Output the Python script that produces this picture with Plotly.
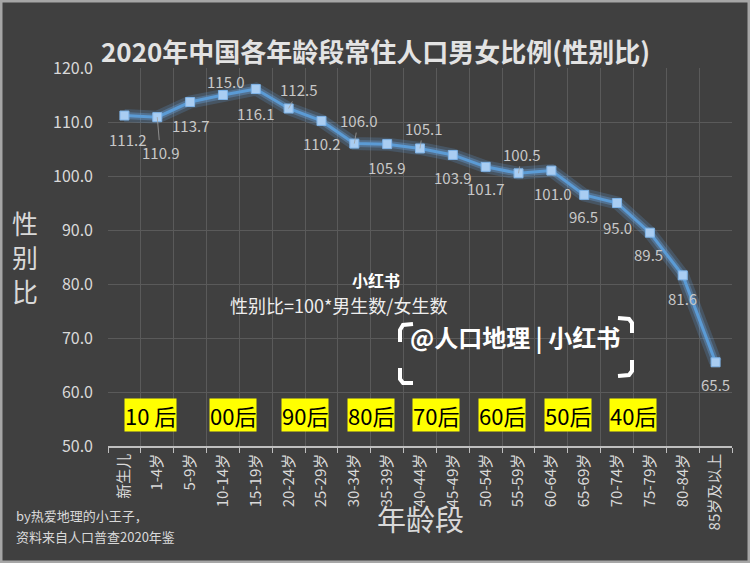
import plotly.graph_objects as go

# ---------------- data ----------------
age_groups = ["新生儿", "1-4岁", "5-9岁", "10-14岁", "15-19岁", "20-24岁", "25-29岁",
              "30-34岁", "35-39岁", "40-44岁", "45-49岁", "50-54岁", "55-59岁",
              "60-64岁", "65-69岁", "70-74岁", "75-79岁", "80-84岁", "85岁及以上"]
sex_ratio = [111.2, 110.9, 113.7, 115.0, 116.1, 112.5, 110.2, 106.0, 105.9, 105.1,
             103.9, 101.7, 100.5, 101.0, 96.5, 95.0, 89.5, 81.6, 65.5]
generation_labels = ["10 后", "00后", "90后", "80后", "70后", "60后", "50后", "40后"]
y_ticks = [50, 60, 70, 80, 90, 100, 110, 120]

title_text = "2020年中国各年龄段常住人口男女比例(性别比)"
x_title = "年龄段"
y_title = "性别比"
formula_text = "性别比=100*男生数/女生数"
footnote_lines = ["by热爱地理的小王子，", "资料来自人口普查2020年鉴"]
wm_small = "小红书"
wm_big = "@人口地理 | 小红书"

# ---------------- style ----------------
BG = "#404040"
GRID = "#5a5a5a"
TXT = "#d9d9d9"
LBL = "#c8c8c8"
FONT = "Noto Sans CJK SC"
W, H = 750, 563
L, R, T, B = 108, 732, 68, 446


def px(x):
    return (x - L) / (R - L)


def py(y):
    return (B - y) / (B - T)


xs = list(range(len(age_groups)))

fig = go.Figure()
# glow
fig.add_trace(go.Scatter(x=xs, y=sex_ratio, mode="lines",
                         line=dict(color="rgba(100,170,240,0.20)", width=13),
                         hoverinfo="skip", showlegend=False))
fig.add_trace(go.Scatter(x=xs, y=sex_ratio, mode="lines",
                         line=dict(color="rgba(110,175,240,0.32)", width=7),
                         hoverinfo="skip", showlegend=False))
fig.add_trace(go.Scatter(x=xs, y=sex_ratio, mode="lines+markers",
                         line=dict(color="#5b9bd5", width=3),
                         marker=dict(symbol="square", size=9, color="#a9cdf2",
                                     line=dict(color="#7fb4e8", width=1)),
                         showlegend=False))

# data labels (offsets in px, leader flag)
label_offsets = [(3, 24), (3, 35), (0, 23), (3, -14), (0, 24), (10, -19), (0, 23),
                 (4, -23), (-1, 23), (3, -20), (0, 23), (0, 22), (3, -19), (1, 23),
                 (-1, 22), (0, 24), (-1, 22), (0, 23), (0, 22)]
leaders = [0, 1, 0, 0, 0, 1, 0, 1, 0, 1, 0, 0, 1, 0, 0, 0, 0, 0, 0]

annotations = []
for i, v in enumerate(sex_ratio):
    dx, dy = label_offsets[i]
    annotations.append(dict(
        x=i, y=v, xref="x", yref="y", ax=dx, ay=dy,
        text=f"{v:.1f}", showarrow=True, arrowhead=0, arrowwidth=0.8,
        arrowcolor="#a0a0a0" if leaders[i] else "rgba(0,0,0,0)",
        font=dict(family=FONT, size=15, color=LBL)))

# generation labels
gen_x = [0.8, 3.3, 5.5, 7.5, 9.5, 11.5, 13.5, 15.5]
for gx, g in zip(gen_x, generation_labels):
    annotations.append(dict(
        x=gx, y=55.8, xref="x", yref="y", text=g, showarrow=False,
        bgcolor="#ffff00", borderpad=0,
        font=dict(family="Liberation Sans Narrow, " + FONT, size=22, color="#000000")))

# titles & texts
annotations += [
    dict(x=px(375), y=py(30), xref="paper", yref="paper", text=f"<b>{title_text}</b>",
         showarrow=False, font=dict(family=FONT, size=26, color="#e3e3e3")),
    dict(x=px(420), y=py(541), xref="paper", yref="paper", text=x_title,
         showarrow=False, font=dict(family=FONT, size=29, color=TXT)),
    dict(x=px(376), y=py(280), xref="paper", yref="paper", text=f"<b>{wm_small}</b>",
         showarrow=False, font=dict(family=FONT, size=16, color="#ffffff")),
    dict(x=px(338), y=py(305), xref="paper", yref="paper", text=formula_text,
         showarrow=False, font=dict(family=FONT, size=18, color="#eeeeee")),
    dict(x=px(515), y=py(356), xref="paper", yref="paper", text=f"<b>{wm_big}</b>",
         showarrow=False, font=dict(family=FONT, size=24, color="#ffffff")),
    # vertical y-axis title, stacked characters
    dict(x=px(10), y=py(256), xref="paper", yref="paper", xanchor="left",
         text="<br>".join(list(y_title)), showarrow=False,
         font=dict(family=FONT, size=26, color=TXT)),
]
# footnote
for k, line in enumerate(footnote_lines):
    annotations.append(dict(x=px(14), y=py(527 + 21 * k), xref="paper", yref="paper",
                            text=line, xanchor="left", showarrow=False,
                            font=dict(family=FONT, size=13, color=TXT)))


def path(points):
    return "M " + " L ".join(f"{px(a)},{py(b)}" for a, b in points)


shapes = [
    # outer frame
    dict(type="rect", xref="paper", yref="paper", x0=px(1), x1=px(749), y0=py(1), y1=py(562),
         line=dict(color="#a6a6a6", width=3)),
    # brackets
    dict(type="path", xref="paper", yref="paper", path=path([(413, 324), (403, 325), (400, 330), (400, 342)]),
         line=dict(color="#ffffff", width=4)),
    dict(type="path", xref="paper", yref="paper", path=path([(400, 368), (400, 379), (403, 383), (413, 383)]),
         line=dict(color="#ffffff", width=4)),
    dict(type="path", xref="paper", yref="paper", path=path([(618, 318), (629, 319), (632, 323), (632, 333)]),
         line=dict(color="#ffffff", width=4)),
    dict(type="path", xref="paper", yref="paper", path=path([(632, 360), (632, 371), (629, 375), (618, 376)]),
         line=dict(color="#ffffff", width=4)),
]

boundaries = [i - 0.5 for i in range(len(age_groups) + 1)]

fig.update_layout(
    width=W, height=H,
    margin=dict(l=L, r=W - R, t=T, b=H - B),
    paper_bgcolor=BG, plot_bgcolor=BG,
    font=dict(family=FONT, color=TXT),
    annotations=annotations,
    shapes=shapes,
    xaxis=dict(range=[-0.5, len(age_groups) - 0.5], tickmode="array", tickvals=xs,
               ticktext=age_groups, tickangle=-90, showgrid=False, ticks="",
               tickfont=dict(family=FONT, size=15, color=TXT),
               showline=True, linecolor="#bfbfbf", linewidth=1.5, zeroline=False,
               minor=dict(tickmode="array", tickvals=boundaries, ticks="outside", ticklen=5,
                          tickcolor="#bfbfbf", showgrid=True, gridcolor=GRID, gridwidth=1)),
    yaxis=dict(range=[50, 120], tickmode="array", tickvals=y_ticks,
               ticktext=[f"{v:.1f}" for v in y_ticks], showgrid=True, gridcolor=GRID,
               gridwidth=1, zeroline=False, showline=False, ticks="",
               ticklabelstandoff=14,
               tickfont=dict(family=FONT, size=16, color=TXT)),
)

fig.write_html("out.html")
